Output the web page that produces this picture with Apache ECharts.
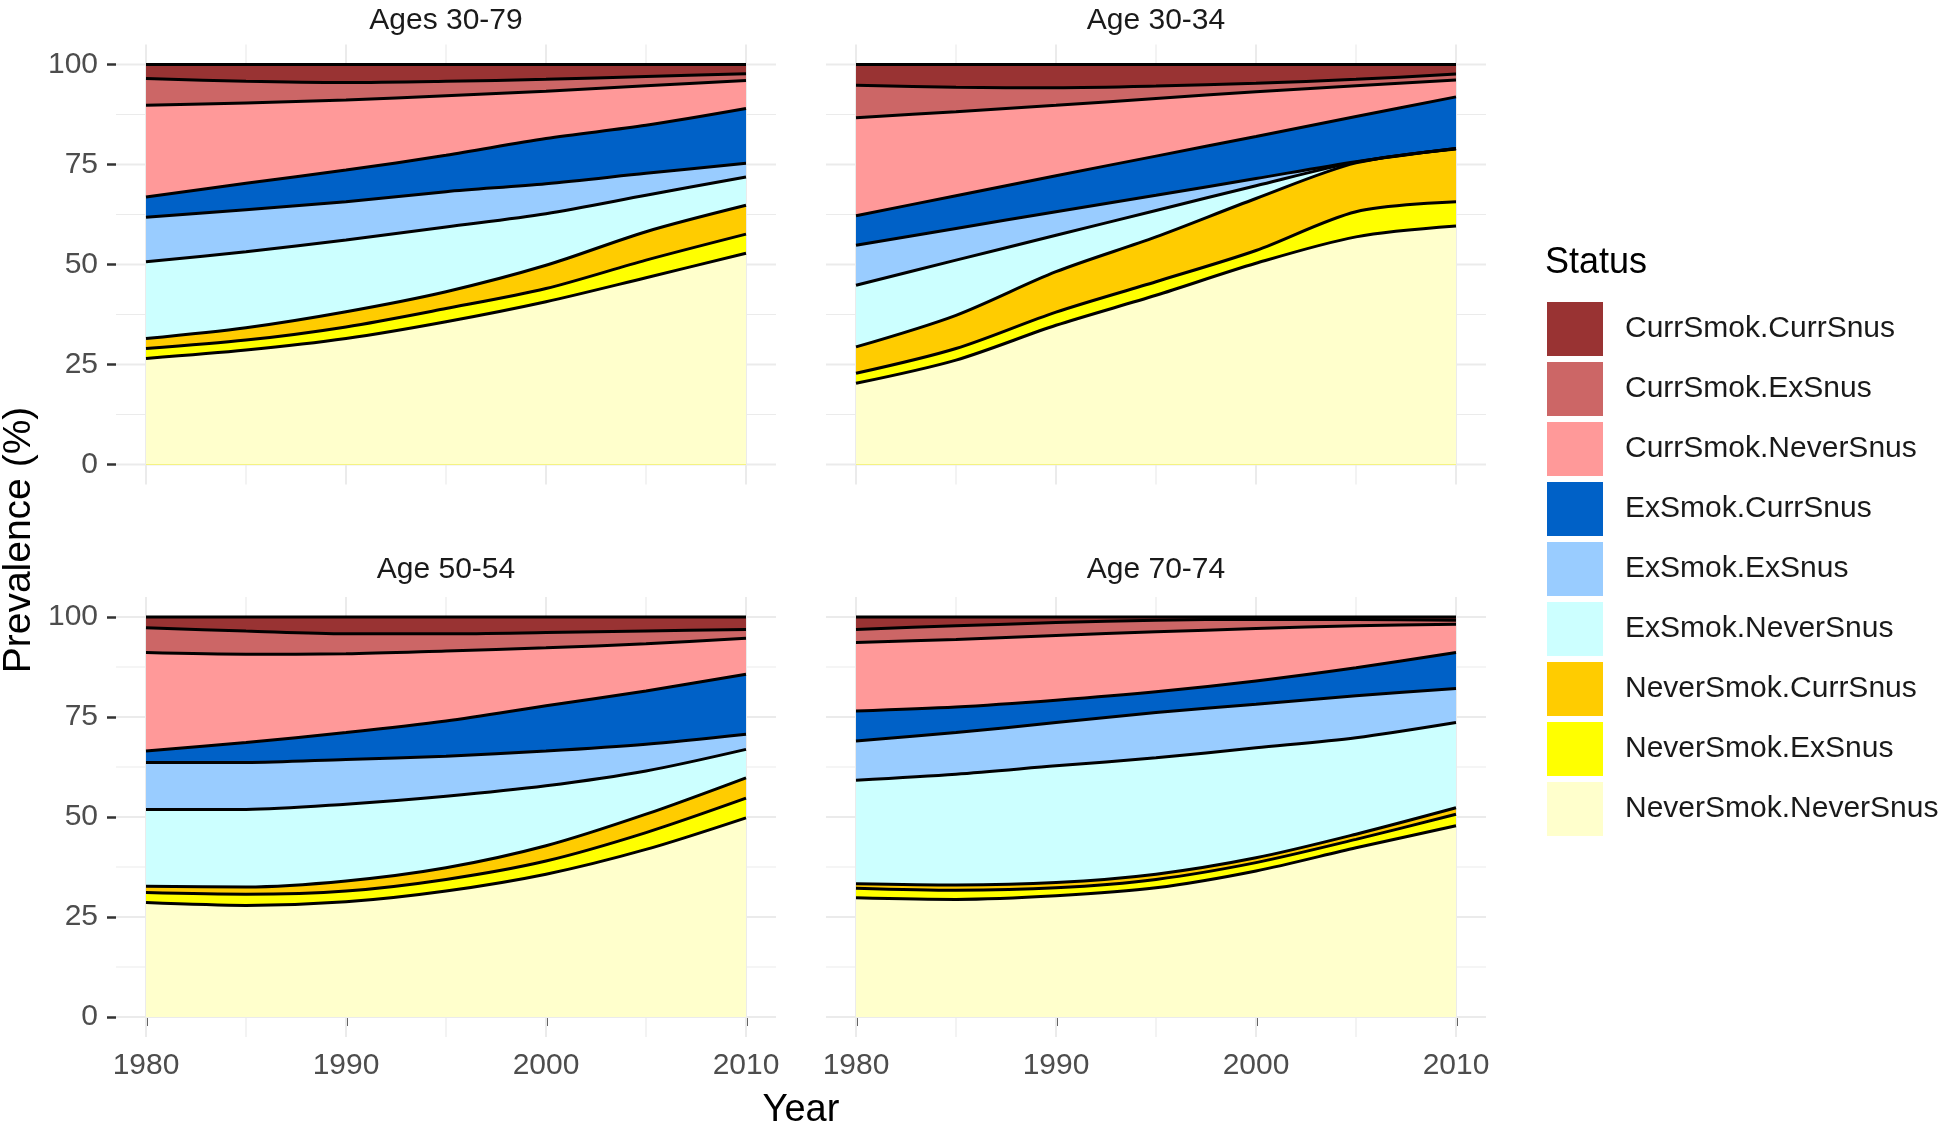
<!DOCTYPE html>
<html>
<head>
<meta charset="utf-8">
<script src="https://cdn.jsdelivr.net/npm/echarts@6/dist/echarts.min.js"></script>
<style>
html,body{margin:0;padding:0;background:#fff;}
#chart{width:1946px;height:1128px;}
</style>
</head>
<body>
<div id="chart"></div>
<script>
// ---- data ----
const years = [1980, 1985, 1990, 1995, 2000, 2005, 2010];
const xTicks = [1980, 1990, 2000, 2010];
const yTicks = [0, 25, 50, 75, 100];
const xGridMinor = [1985, 1995, 2005];
const yGridMinor = [12.5, 37.5, 62.5, 87.5];
const xRange = [1978.5, 2011.5];
const yRange = [-5, 105];
// stacking order, bottom to top
const statusNames = ['NeverSmok.NeverSnus', 'NeverSmok.ExSnus', 'NeverSmok.CurrSnus',
  'ExSmok.NeverSnus', 'ExSmok.ExSnus', 'ExSmok.CurrSnus',
  'CurrSmok.NeverSnus', 'CurrSmok.ExSnus', 'CurrSmok.CurrSnus'];
const statusColors = ['#ffffcc', '#ffff00', '#ffcc00', '#ccffff', '#99ccff', '#0061c7',
  '#ff9999', '#cc6666', '#993333'];
const panelTitles = ['Ages 30-79', 'Age 30-34', 'Age 50-54', 'Age 70-74'];

// prevalence (%) — rows follow statusNames, columns follow years
const agesAll = [
  [26.5, 28.6, 31.5, 35.7, 40.7, 46.7, 52.8],
  [2.5, 2.5, 2.9, 3.3, 3.3, 4.4, 4.8],
  [2.5, 3.1, 3.8, 4.2, 5.8, 7.1, 7.2],
  [19.2, 19.0, 17.9, 16.2, 12.9, 9.1, 7.1],
  [11.1, 10.5, 9.6, 8.8, 7.5, 5.5, 3.4],
  [5.1, 6.6, 7.9, 9.1, 11.3, 12.0, 13.7],
  [22.9, 20.1, 17.5, 14.9, 11.8, 9.9, 7.0],
  [6.7, 5.4, 4.4, 3.6, 3.0, 2.3, 1.7],
  [3.5, 4.2, 4.5, 4.2, 3.7, 3.0, 2.3]
];
const age3034 = [
  [20.3, 26.1, 34.8, 42.3, 50.3, 56.9, 59.6],
  [2.5, 2.9, 3.3, 3.4, 3.2, 6.3, 6.1],
  [6.6, 8.3, 10.1, 11.2, 13.0, 12.2, 13.2],
  [15.4, 13.8, 9.1, 6.6, 3.2, 0.2, 0.1],
  [10.0, 7.9, 5.9, 3.8, 1.8, 0.1, 0.0],
  [7.4, 8.2, 9.0, 9.8, 10.5, 11.3, 12.9],
  [24.5, 21.0, 17.6, 14.4, 11.2, 7.7, 4.2],
  [8.1, 6.1, 4.4, 3.1, 2.1, 1.6, 1.5],
  [5.2, 5.7, 5.8, 5.4, 4.7, 3.7, 2.4]
];
const age5054 = [
  [28.6, 27.9, 28.8, 31.5, 35.7, 41.9, 49.8],
  [2.5, 2.8, 2.7, 2.9, 3.3, 4.2, 4.9],
  [1.6, 1.8, 2.5, 2.9, 3.8, 4.6, 5.1],
  [19.2, 19.4, 19.2, 17.9, 15.0, 10.8, 7.1],
  [11.7, 11.7, 11.2, 10.0, 8.7, 6.7, 3.8],
  [2.9, 5.0, 6.7, 8.8, 11.3, 13.3, 15.0],
  [24.6, 22.1, 19.7, 17.5, 14.5, 11.8, 9.0],
  [6.2, 5.8, 5.0, 4.3, 3.8, 3.2, 2.2],
  [2.7, 3.5, 4.2, 4.2, 3.9, 3.5, 3.1]
];
const age7074 = [
  [29.8, 29.4, 30.3, 32.3, 36.5, 42.3, 47.8],
  [2.4, 2.3, 2.0, 2.1, 2.1, 2.1, 2.9],
  [1.1, 1.3, 1.3, 1.3, 1.2, 1.3, 1.6],
  [25.9, 27.7, 29.2, 29.1, 27.5, 24.1, 21.3],
  [9.8, 10.4, 10.8, 11.3, 10.9, 10.5, 8.5],
  [7.5, 6.4, 5.6, 5.2, 5.8, 7.0, 9.0],
  [17.1, 16.9, 16.2, 15.0, 13.1, 10.5, 7.1],
  [3.3, 3.4, 3.2, 2.9, 2.3, 1.6, 1.0],
  [3.1, 2.2, 1.4, 0.8, 0.6, 0.6, 0.8]
];
const panels = [agesAll, age3034, age5054, age7074];

// ---- layout ----
const FONT = 'Liberation Sans, Arial, sans-serif';
const grids = [
  {left: 116, top: 44.5, width: 660, height: 440},
  {left: 826, top: 44.5, width: 660, height: 440},
  {left: 116, top: 597, width: 660, height: 440},
  {left: 826, top: 597, width: 660, height: 440}
];
const isBottom = [false, false, true, true];
const isLeft = [true, false, true, false];

const xAxes = grids.map((g, i) => ({
  type: 'value', gridIndex: i, min: xRange[0], max: xRange[1],
  axisLine: {show: false},
  splitLine: {show: false},
  axisTick: {show: isBottom[i], customValues: xTicks, length: 9, lineStyle: {color: '#333333', width: 2.5}},
  axisLabel: {show: isBottom[i], customValues: xTicks, fontSize: 30, color: '#4d4d4d', fontFamily: FONT, margin: 14,
    formatter: v => String(v)}
}));
const yAxes = grids.map((g, i) => ({
  type: 'value', gridIndex: i, min: yRange[0], max: yRange[1],
  axisLine: {show: false},
  splitLine: {show: false},
  axisTick: {show: isLeft[i], customValues: yTicks, length: 9, lineStyle: {color: '#333333', width: 2.5}},
  axisLabel: {show: isLeft[i], customValues: yTicks, fontSize: 30, color: '#4d4d4d', fontFamily: FONT, margin: 18,
    formatter: v => String(v)}
}));

const series = [];
function gridLine(p, pts, width) {
  series.push({
    type: 'line', xAxisIndex: p, yAxisIndex: p, z: 1, silent: true, animation: false,
    symbol: 'none', data: pts, lineStyle: {color: '#ebebeb', width: width}, clip: false
  });
}
panels.forEach((rows, p) => {
  xTicks.forEach(v => gridLine(p, [[v, yRange[0]], [v, yRange[1]]], 2));
  xGridMinor.forEach(v => gridLine(p, [[v, yRange[0]], [v, yRange[1]]], 1.2));
  yTicks.forEach(v => gridLine(p, [[xRange[0], v], [xRange[1], v]], 2));
  yGridMinor.forEach(v => gridLine(p, [[xRange[0], v], [xRange[1], v]], 1.2));

  // cumulative totals (stacked), drawn from the top layer down so lower layers cover upper ones
  const cum = [];
  rows.forEach((vals, s) => {
    cum.push(vals.map((v, k) => (s ? cum[s - 1][k] : 0) + v));
  });
  for (let s = rows.length - 1; s >= 0; s--) {
    series.push({
      name: statusNames[s],
      type: 'line',
      xAxisIndex: p, yAxisIndex: p,
      z: 3,
      smooth: 0.3,
      symbol: 'none',
      silent: true,
      animation: false,
      data: years.map((y, k) => [y, cum[s][k]]),
      itemStyle: {color: statusColors[s]},
      lineStyle: {color: '#000000', width: 3},
      areaStyle: {color: statusColors[s], opacity: 1, origin: 'auto'}
    });
  }
});

const graphics = [];
panelTitles.forEach((t, i) => {
  const g = grids[i];
  graphics.push({type: 'text', x: g.left + g.width / 2, y: i < 2 ? 21 : 570,
    style: {text: t, font: '30px ' + FONT, fill: '#1a1a1a', textAlign: 'center', textVerticalAlign: 'middle'}});
});
graphics.push({type: 'text', x: 801, y: 1111,
  style: {text: 'Year', font: '38px ' + FONT, fill: '#000000', textAlign: 'center', textVerticalAlign: 'middle'}});
graphics.push({type: 'text', x: 19, y: 540, rotation: Math.PI / 2,
  style: {text: 'Prevalence (%)', font: '39px ' + FONT, fill: '#000000', textAlign: 'center', textVerticalAlign: 'middle'}});
graphics.push({type: 'text', x: 1545, y: 263,
  style: {text: 'Status', font: '36px ' + FONT, fill: '#000000', textAlign: 'left', textVerticalAlign: 'middle'}});

const chart = echarts.init(document.getElementById('chart'), null, {renderer: 'canvas'});
chart.setOption({
  backgroundColor: '#ffffff',
  animation: false,
  grid: grids,
  xAxis: xAxes,
  yAxis: yAxes,
  legend: {
    orient: 'vertical', left: 1542, top: 297,
    itemWidth: 56, itemHeight: 54, itemGap: 6,
    icon: 'rect', selectedMode: false,
    data: statusNames.slice().reverse(),
    itemStyle: {borderWidth: 0},
    textStyle: {fontSize: 30, color: '#1a1a1a', fontFamily: FONT, padding: [0, 0, 0, 17]}
  },
  graphic: graphics,
  series: series
});
</script>
</body>
</html>
